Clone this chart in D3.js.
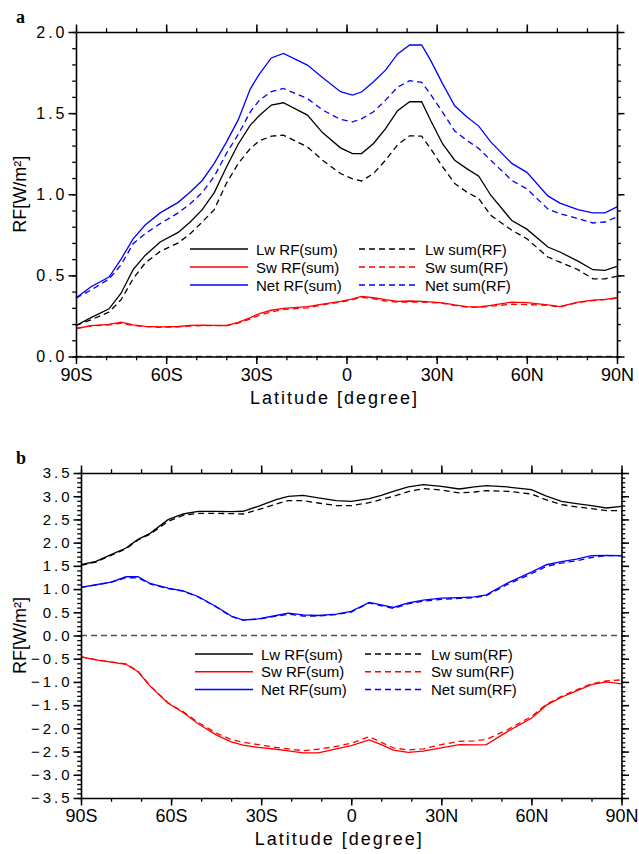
<!DOCTYPE html>
<html>
<head>
<meta charset="utf-8">
<script src="https://cdn.jsdelivr.net/npm/d3@7/dist/d3.min.js"></script>
<style>
  body { margin: 0; background: #fff; }
  svg text { font-family: "Liberation Sans", Arial, sans-serif; }
</style>
</head>
<body>
<svg id="chart" width="639" height="854"></svg>
<script>
// panel a: latitudes and values (W/m2)
const latA = [-90,-85,-79,-75,-71,-67,-62,-56,-52,-48,-44,-40,-36,-32,-29,-25,-21,-13,-8,-2,
              2,5,9,13,17,21,25,28,32,36,40,44,48,55,60,67,71,77,82,86,90];
const lwRfA  = [0.191,0.24,0.294,0.39,0.535,0.623,0.706,0.765,0.829,0.905,1.01,1.165,1.31,1.426,1.485,1.55,1.564,1.488,1.38,1.286,
                1.251,1.251,1.313,1.405,1.515,1.57,1.57,1.455,1.31,1.21,1.158,1.111,0.994,0.838,0.785,0.675,0.644,0.588,0.535,0.531,0.556];
const lwSumA = [0.191,0.226,0.274,0.35,0.479,0.576,0.648,0.70,0.757,0.829,0.905,1.066,1.19,1.282,1.329,1.358,1.364,1.292,1.21,1.128,
                1.095,1.082,1.128,1.21,1.305,1.36,1.358,1.28,1.169,1.066,1.014,0.973,0.87,0.778,0.726,0.613,0.582,0.535,0.479,0.479,0.494];
const swRfA  = [0.171,0.19,0.198,0.212,0.195,0.186,0.183,0.185,0.192,0.193,0.192,0.191,0.21,0.24,0.265,0.285,0.297,0.308,0.323,0.34,
                0.355,0.37,0.362,0.35,0.34,0.342,0.34,0.337,0.33,0.318,0.308,0.305,0.315,0.335,0.332,0.318,0.308,0.335,0.348,0.352,0.362];
const swSumA = [0.175,0.188,0.195,0.205,0.192,0.184,0.18,0.182,0.188,0.19,0.19,0.19,0.205,0.232,0.255,0.275,0.29,0.3,0.318,0.335,
                0.35,0.365,0.355,0.342,0.335,0.335,0.335,0.333,0.328,0.315,0.305,0.303,0.31,0.322,0.32,0.315,0.306,0.332,0.345,0.35,0.36];
const netRfA = [0.36,0.43,0.49,0.60,0.725,0.81,0.885,0.95,1.014,1.085,1.19,1.32,1.46,1.65,1.74,1.84,1.868,1.796,1.72,1.632,
                1.611,1.63,1.693,1.765,1.865,1.92,1.92,1.825,1.68,1.545,1.478,1.42,1.323,1.19,1.135,0.99,0.945,0.905,0.885,0.885,0.922];
const netSumA = [0.36,0.41,0.478,0.565,0.695,0.757,0.819,0.885,0.942,1.01,1.11,1.25,1.37,1.508,1.58,1.632,1.652,1.59,1.52,1.461,
                 1.446,1.465,1.508,1.58,1.66,1.70,1.69,1.615,1.505,1.39,1.333,1.282,1.21,1.085,1.033,0.91,0.88,0.85,0.823,0.829,0.86];

// panel b
const latB = [-90,-85,-80,-75,-71,-67,-61,-56,-51,-45,-40,-36,-31,-25,-21,-16,-11,-5,0,6,
              10,14,19,24,30,36,41,45,52,60,65,70,75,80,85,90];
const lwRfB  = [1.524,1.596,1.74,1.884,2.07,2.2,2.495,2.617,2.674,2.674,2.67,2.676,2.782,2.926,2.998,3.019,2.962,2.904,2.89,2.95,
                3.02,3.106,3.2,3.249,3.213,3.156,3.199,3.228,3.199,3.142,3.0,2.89,2.84,2.797,2.746,2.782];
const lwSumB = [1.51,1.582,1.725,1.869,2.06,2.18,2.459,2.588,2.631,2.631,2.625,2.617,2.71,2.833,2.904,2.904,2.854,2.8,2.797,2.86,
                2.93,2.998,3.1,3.163,3.134,3.07,3.091,3.12,3.106,3.048,2.92,2.82,2.77,2.732,2.689,2.689];
const swRfB  = [-0.46,-0.525,-0.575,-0.62,-0.78,-1.09,-1.459,-1.66,-1.9,-2.14,-2.29,-2.36,-2.41,-2.45,-2.487,-2.53,-2.53,-2.44,-2.37,-2.25,
                -2.35,-2.47,-2.516,-2.49,-2.42,-2.35,-2.356,-2.35,-2.07,-1.783,-1.5,-1.33,-1.193,-1.06,-1.0,-1.042];
const swSumB = [-0.46,-0.52,-0.57,-0.61,-0.77,-1.08,-1.45,-1.64,-1.87,-2.1,-2.24,-2.3,-2.35,-2.41,-2.444,-2.48,-2.45,-2.39,-2.32,-2.18,
                -2.3,-2.42,-2.466,-2.44,-2.35,-2.28,-2.27,-2.24,-2.03,-1.747,-1.48,-1.31,-1.172,-1.04,-0.98,-0.956];
const netRfB = [1.035,1.093,1.15,1.265,1.265,1.121,1.021,0.963,0.84,0.625,0.42,0.331,0.359,0.431,0.482,0.445,0.431,0.46,0.518,0.712,
                0.66,0.604,0.7,0.76,0.805,0.815,0.83,0.877,1.13,1.366,1.524,1.59,1.646,1.72,1.725,1.718];
const netSumB = [1.035,1.09,1.145,1.245,1.24,1.11,1.01,0.955,0.83,0.615,0.41,0.33,0.35,0.415,0.46,0.42,0.42,0.45,0.505,0.7,
                 0.64,0.585,0.68,0.74,0.78,0.8,0.815,0.86,1.1,1.33,1.49,1.56,1.61,1.68,1.72,1.72];

const latMajor = d3.range(-90, 91, 30);
const latMinor = d3.range(-90, 91, 10);

function latLabel(d) {
    if (d < 0) return (-d) + "S";
    if (d > 0) return d + "N";
    return "0";
}

const svg = d3.select("#chart");

function drawPanel(cfg) {
    const g = svg.append("g");
    const x = d3.scaleLinear().domain([-90, 90]).range([cfg.left, cfg.right]);
    const y = d3.scaleLinear().domain(cfg.yDomain).range([cfg.bottom, cfg.top]);

    // zero line (dashed, grey)
    g.append("line")
        .attr("x1", x(-90)).attr("x2", x(90))
        .attr("y1", y(0)).attr("y2", y(0))
        .attr("stroke", "#555").attr("stroke-width", 1.3)
        .attr("stroke-dasharray", "6,4");

    // data lines
    const line = d3.line().x(d => x(d[0])).y(d => y(d[1]));
    cfg.series.forEach(s => {
        g.append("path")
            .datum(cfg.lats.map((la, i) => [la, s.values[i]]))
            .attr("d", line)
            .attr("fill", "none")
            .attr("stroke", s.color)
            .attr("stroke-width", 1.3)
            .attr("stroke-dasharray", s.dashed ? "6,4" : null);
    });

    // axes: minor ticks first, then major
    const yMinor = d3.range(cfg.yDomain[0], cfg.yDomain[1] + 0.001, 0.1).map(v => +v.toFixed(1));
    const yMajor = d3.range(cfg.yDomain[0], cfg.yDomain[1] + 0.001, cfg.yStep).map(v => +v.toFixed(1));

    const axes = [
        { make: () => d3.axisBottom(x), tr: `translate(0,${cfg.bottom})`, minor: latMinor, major: latMajor, fmt: latLabel },
        { make: () => d3.axisTop(x), tr: `translate(0,${cfg.top})`, minor: latMinor, major: latMajor, fmt: () => "" },
        { make: () => d3.axisLeft(y), tr: `translate(${cfg.left},0)`, minor: yMinor, major: yMajor, fmt: d3.format(".1f"), isY: true },
        { make: () => d3.axisRight(y), tr: `translate(${cfg.right},0)`, minor: yMinor, major: yMajor, fmt: () => "" }
    ];
    axes.forEach(a => {
        const gm = g.append("g").attr("transform", a.tr)
            .call(a.make().tickValues(a.minor).tickSize(3.8).tickSizeOuter(0).tickFormat(""));
        gm.select(".domain").remove();
        gm.selectAll(".tick line").attr("stroke", "#000").attr("stroke-width", 1.3);

        const gM = g.append("g").attr("transform", a.tr);
        gM.call(a.make().tickValues(a.major).tickSize(7.5).tickSizeOuter(0)
            .tickPadding(a.isY ? 1 : 4).tickFormat(a.fmt));
        gM.select(".domain").attr("stroke", "#000").attr("stroke-width", 1.6);
        gM.selectAll(".tick line").attr("stroke", "#000").attr("stroke-width", 1.5);
        gM.selectAll(".tick text").attr("fill", "#000")
            .style("font-family", "'Liberation Sans', Arial, sans-serif")
            .style("font-size", a.isY ? cfg.yFont + "px" : "18px")
            .style("letter-spacing", a.isY ? "3px" : null);
    });

    // axis titles
    g.append("text")
        .attr("x", (cfg.left + cfg.right) / 2 - 12)
        .attr("y", cfg.bottom + 47)
        .attr("text-anchor", "middle")
        .style("font-size", "18px")
        .style("letter-spacing", "2px")
        .text("Latitude [degree]");
    g.append("text")
        .attr("transform", `translate(26,${(cfg.top + cfg.bottom) / 2}) rotate(-90)`)
        .attr("text-anchor", "middle")
        .style("font-size", "18px")
        .text("RF[W/m²]");

    // panel letter
    g.append("text")
        .attr("x", 16).attr("y", cfg.top - 9)
        .style("font-family", "'Liberation Serif', 'Times New Roman', serif")
        .style("font-weight", "bold")
        .style("font-size", "18px")
        .text(cfg.letter);

    // legend
    const leg = g.append("g");
    cfg.series.forEach((s, i) => {
        const col = s.dashed ? 1 : 0;
        const row = i % 3;
        const lx = cfg.legX[col];
        const ly = cfg.legY + row * cfg.legDy;
        leg.append("line")
            .attr("x1", lx).attr("x2", lx + 58)
            .attr("y1", ly).attr("y2", ly)
            .attr("stroke", s.color).attr("stroke-width", 1.5)
            .attr("stroke-dasharray", s.dashed ? "6,4" : null);
        leg.append("text")
            .attr("x", lx + 66).attr("y", ly + 5.5)
            .style("font-size", "15px")
            .text(s.name);
    });
}

drawPanel({
    letter: "a",
    left: 76, right: 617, top: 32, bottom: 356.5,
    yDomain: [0, 2], yStep: 0.5, yFont: 16,
    lats: latA,
    legX: [190, 359], legY: 249, legDy: 18,
    series: [
        { name: "Lw RF(sum)", values: lwRfA, color: "#000", dashed: false },
        { name: "Sw RF(sum)", values: swRfA, color: "#ff0000", dashed: false },
        { name: "Net RF(sum)", values: netRfA, color: "#0000ff", dashed: false },
        { name: "Lw sum(RF)", values: lwSumA, color: "#000", dashed: true },
        { name: "Sw sum(RF)", values: swSumA, color: "#ff0000", dashed: true },
        { name: "Net sum(RF)", values: netSumA, color: "#0000ff", dashed: true }
    ]
});

drawPanel({
    letter: "b",
    left: 81, right: 621.5, top: 473, bottom: 798,
    yDomain: [-3.5, 3.5], yStep: 0.5, yFont: 15,
    lats: latB,
    legX: [195, 365], legY: 654, legDy: 17.7,
    series: [
        { name: "Lw RF(sum)", values: lwRfB, color: "#000", dashed: false },
        { name: "Sw RF(sum)", values: swRfB, color: "#ff0000", dashed: false },
        { name: "Net RF(sum)", values: netRfB, color: "#0000ff", dashed: false },
        { name: "Lw sum(RF)", values: lwSumB, color: "#000", dashed: true },
        { name: "Sw sum(RF)", values: swSumB, color: "#ff0000", dashed: true },
        { name: "Net sum(RF)", values: netSumB, color: "#0000ff", dashed: true }
    ]
});
</script>
</body>
</html>
